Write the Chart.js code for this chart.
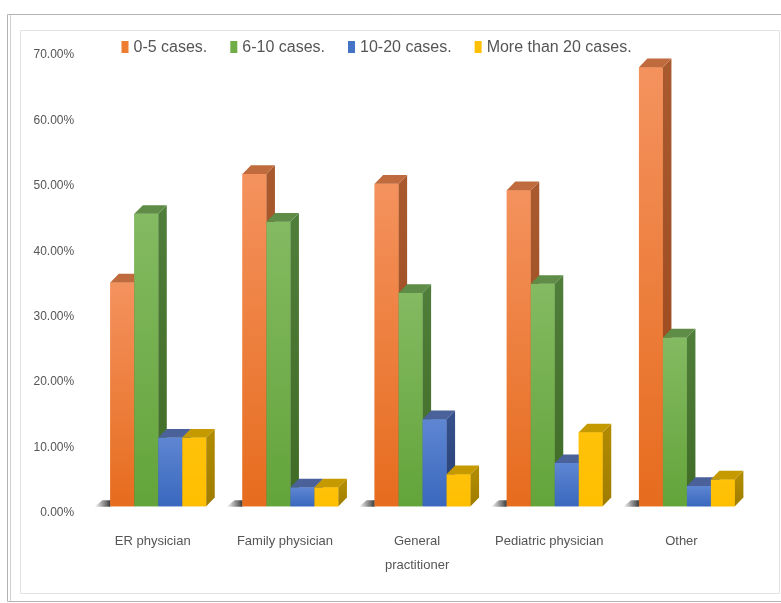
<!DOCTYPE html>
<html>
<head>
<meta charset="utf-8">
<script src="https://cdn.jsdelivr.net/npm/chart.js@4/dist/chart.umd.min.js"></script>
<style>
  html, body { margin: 0; padding: 0; background: #ffffff; }
  canvas { display: block; }
</style>
</head>
<body>
<canvas id="chart" width="781" height="603"></canvas>
<script>
// Categories and series (share of respondents, %)
const categories = ['ER physician', 'Family physician', ['General', 'practitioner'], 'Pediatric physician', 'Other'];
const seriesNames = ['0-5 cases.', '6-10 cases.', '10-20 cases.', 'More than 20 cases.'];
const cases0to5   = [34.2, 50.8, 49.3, 48.3, 67.1];
const cases6to10  = [44.7, 43.5, 32.6, 34.0, 25.8];
const cases10to20 = [10.5, 2.9, 13.3, 6.6, 3.1];
const casesOver20 = [10.5, 2.9, 4.9, 11.3, 4.1];
const yTicks = [0, 10, 20, 30, 40, 50, 60, 70];

const FONT = "'Liberation Sans', Arial, sans-serif";
const TEXT = '#555555';

// face colours for each series: front gradient (top, bottom), side, top
const palette = [
  { front: ['#F4925E', '#E66C1E'], side: ['#A85A2E', '#98461A'], top: '#BF6B3E', key: '#ED7D31' },
  { front: ['#84BA62', '#63A43A'], side: ['#4F7E3A', '#3F6B26'], top: '#5F8C46', key: '#70AD47' },
  { front: ['#5E86D2', '#3A68BE'], side: ['#344F8A', '#283F74'], top: '#4A6299', key: '#4472C4' },
  { front: ['#FFC20A', '#FFBE00'], side: ['#B08A00', '#9E7C00'], top: '#C49A00', key: '#FFC000' }
];

const depth = { dx: 8.5, dy: 8.7 };

function frontFill(i) {
  return (c) => {
    const chart = c.chart;
    const ys = chart.scales.y;
    if (!ys || !chart.chartArea || c.raw == null) return palette[i].key;
    const top = ys.getPixelForValue(c.raw);
    const bot = ys.getPixelForValue(0);
    const g = chart.ctx.createLinearGradient(0, top, 0, bot);
    g.addColorStop(0, palette[i].front[0]);
    g.addColorStop(1, palette[i].front[1]);
    return g;
  };
}

function drawFloorShadow(ctx, l, b) {
  const g = ctx.createLinearGradient(l - 16, 0, l, 0);
  g.addColorStop(0, 'rgba(90,90,90,0)');
  g.addColorStop(0.5, 'rgba(80,80,80,0.55)');
  g.addColorStop(1, 'rgba(45,45,45,0.95)');
  ctx.fillStyle = g;
  ctx.beginPath();
  ctx.moveTo(l - 16, b + 0.5);
  ctx.lineTo(l - 8, b - 6);
  ctx.lineTo(l, b - 6);
  ctx.lineTo(l, b + 0.5);
  ctx.closePath();
  ctx.fill();
}

function drawFaces(ctx, p, col) {
  const l = p.x - p.width / 2, r = p.x + p.width / 2;
  const t = p.y, b = p.base;
  const dx = depth.dx, dy = depth.dy;
  // side face
  const sg = ctx.createLinearGradient(0, t, 0, b);
  sg.addColorStop(0, col.side[0]);
  sg.addColorStop(1, col.side[1]);
  ctx.fillStyle = sg;
  ctx.beginPath();
  ctx.moveTo(r, t);
  ctx.lineTo(r + dx, t - dy);
  ctx.lineTo(r + dx, b - dy);
  ctx.lineTo(r, b);
  ctx.closePath();
  ctx.fill();
  // top face
  ctx.fillStyle = col.top;
  ctx.beginPath();
  ctx.moveTo(l, t);
  ctx.lineTo(l + dx, t - dy);
  ctx.lineTo(r + dx, t - dy);
  ctx.lineTo(r, t);
  ctx.closePath();
  ctx.fill();
}

// extrudes the columns: per category, each column's front is painted
// followed by its side and top, left to right, so neighbours overlap properly
const columns3d = {
  id: 'columns3d',
  afterDatasetsDraw(chart) {
    const ctx = chart.ctx;
    const metas = chart.data.datasets.map((_, i) => chart.getDatasetMeta(i));
    ctx.save();
    categories.forEach((_, ci) => {
      const first = metas[0].data[ci].getProps(['x', 'width', 'base'], true);
      drawFloorShadow(ctx, first.x - first.width / 2, first.base);
      metas.forEach((meta, si) => {
        const bar = meta.data[ci];
        bar.draw(ctx);
        drawFaces(ctx, bar.getProps(['x', 'y', 'width', 'base'], true), palette[si]);
      });
    });
    ctx.restore();
  },
  afterDraw(chart) {
    const ctx = chart.ctx;
    ctx.save();
    // chart frames
    ctx.strokeStyle = '#b4b4b4';
    ctx.lineWidth = 1;
    ctx.beginPath();
    ctx.moveTo(790, 14.5); ctx.lineTo(7.5, 14.5); ctx.lineTo(7.5, 601.5); ctx.lineTo(790, 601.5);
    ctx.stroke();
    ctx.strokeStyle = '#cfcfcf';
    ctx.beginPath();
    ctx.moveTo(10.5, 15); ctx.lineTo(10.5, 601);
    ctx.stroke();
    ctx.strokeStyle = '#e3e3e3';
    ctx.beginPath();
    ctx.moveTo(779.5, 30.5); ctx.lineTo(20.5, 30.5); ctx.lineTo(20.5, 593.5); ctx.lineTo(779.5, 593.5); ctx.lineTo(779.5, 30.5);
    ctx.stroke();

    // legend
    ctx.font = '16px ' + FONT;
    ctx.textBaseline = 'middle';
    ctx.textAlign = 'left';
    let x = 121.5;
    const yc = 47;
    chart.data.datasets.forEach((ds, i) => {
      ctx.fillStyle = palette[i].key;
      ctx.fillRect(x, yc - 6, 7, 12);
      x += 7 + 5;
      ctx.fillStyle = TEXT;
      ctx.fillText(ds.label, x, yc + 1);
      x += ctx.measureText(ds.label).width + 23;
    });
    ctx.restore();
  }
};

const seriesValues = [cases0to5, cases6to10, cases10to20, casesOver20];

new Chart(document.getElementById('chart'), {
  type: 'bar',
  data: {
    labels: categories,
    datasets: seriesNames.map((name, i) => ({
      label: name,
      data: seriesValues[i],
      backgroundColor: frontFill(i),
      borderWidth: 0,
      yAxisID: 'y',
      clip: false,
      barPercentage: 1,
      categoryPercentage: 0.726
    }))
  },
  options: {
    responsive: false,
    animation: false,
    devicePixelRatio: 1,
    layout: { padding: { top: 55, right: 28, left: 0, bottom: 0 } },
    plugins: {
      legend: { display: false },
      tooltip: { enabled: false }
    },
    scales: {
      x: {
        grid: { display: false, drawTicks: false },
        border: { display: false },
        ticks: {
          color: TEXT,
          font: { family: FONT, size: 13, lineHeight: 1.85 },
          padding: 16,
          labelOffset: -5.5,
          maxRotation: 0,
          autoSkip: false
        },
        afterFit: (s) => { s.height = 90; }
      },
      y: {
        display: false,
        min: -1.024,
        max: 68.976
      },
      yl: {
        type: 'linear',
        position: 'left',
        min: 0,
        max: 70,
        grid: { display: false, drawTicks: false },
        border: { display: false },
        ticks: {
          color: TEXT,
          font: { family: FONT, size: 12 },
          padding: 18,
          callback: (v) => v.toFixed(2) + '%'
        },
        afterBuildTicks: (s) => { s.ticks = yTicks.map((v) => ({ value: v })); },
        afterFit: (s) => { s.width = 92.2; }
      }
    }
  },
  plugins: [columns3d]
});
</script>
</body>
</html>
